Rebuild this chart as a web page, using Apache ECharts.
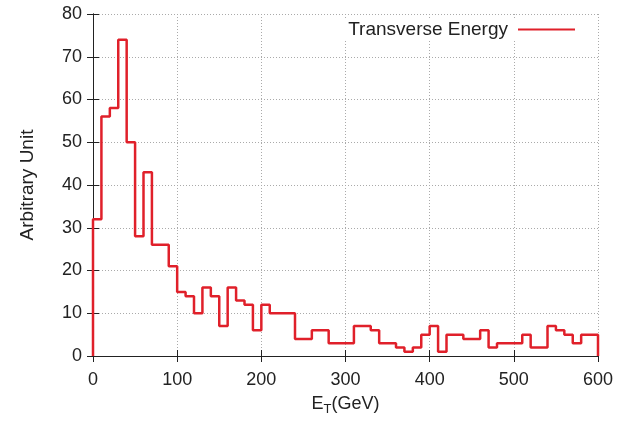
<!DOCTYPE html>
<html>
<head>
	<meta charset="utf-8">
	<title>Transverse Energy</title>
	<style type="text/css">
		body{
			margin: 0px;
			background: #fff;
		}
		.chart{
			width: 643px;
			height: 421px;
		}
	</style>
	<script type="text/javascript" src="https://cdn.jsdelivr.net/npm/echarts@6/dist/echarts.min.js"></script>
</head>
<body>
	<div id="chart" class="chart"></div>
	<script type="text/javascript">
		// histogram, 10 GeV bins from 0 to 600
		var binWidth = 10;
		var counts = [32, 56, 58, 74, 50, 28, 43, 26, 26, 21,
			15, 14, 10, 16, 14, 7, 16, 13, 12, 6,
			12, 10, 10, 10, 4, 4, 6, 6, 3, 3,
			3, 7, 7, 6, 3, 3, 2, 1, 2, 5,
			7, 1, 5, 5, 4, 4, 6, 2, 3, 3,
			3, 5, 2, 2, 7, 6, 5, 3, 5, 5];
		var xTicks = [0, 100, 200, 300, 400, 500, 600];
		var yTicks = [0, 10, 20, 30, 40, 50, 60, 70, 80];

		window.onload = function(){
			var chart = echarts.init(document.getElementById('chart'));
			var pts = [[0, 0]];
			counts.forEach(function(c, i){
				pts.push([i * binWidth, c]);
			});
			pts.push([counts.length * binWidth, 0]);

			var font = 'Liberation Sans, Arial, sans-serif';
			var frame = {show: true, lineStyle: {color: '#222', width: 1}};
			var tick = {show: true, inside: true, length: 6, lineStyle: {color: '#222'}};
			var grid = {show: true, lineStyle: {color: '#aaa', type: [1, 2], width: 1}};

			chart.setOption({
				backgroundColor: '#fff',
				animation: false,
				grid: {left: 93, right: 45, top: 14, bottom: 65},
				legend: {
					data: ['Transverse Energy'],
					right: 64,
					top: 19,
					align: 'right',
					icon: 'rect',
					itemWidth: 57,
					itemHeight: 2,
					backgroundColor: '#fff',
					padding: [1, 4],
					textStyle: {fontFamily: font, fontSize: 19, color: '#222', padding: [0, 5, 0, 0]}
				},
				xAxis: [{
					type: 'value', min: xTicks[0], max: xTicks[xTicks.length - 1], interval: 100,
					axisLine: frame, axisTick: tick, splitLine: grid,
					axisLabel: {fontFamily: font, fontSize: 18, color: '#222', margin: 15},
					name: 'E{sub|T}(GeV)',
					nameLocation: 'middle',
					nameGap: 37,
					nameTextStyle: {
						fontFamily: font, fontSize: 18, color: '#222',
						rich: {sub: {fontFamily: font, fontSize: 13, color: '#222', verticalAlign: 'bottom', padding: [10, 0, 0, 0]}}
					}
				}, {
					type: 'value', position: 'top', min: 0, max: 600, interval: 100,
					axisLine: frame, axisTick: tick, axisLabel: {show: false}, splitLine: {show: false}
				}],
				yAxis: [{
					type: 'value', min: yTicks[0], max: yTicks[yTicks.length - 1], interval: 10,
					axisLine: frame, axisTick: tick, splitLine: grid,
					axisLabel: {fontFamily: font, fontSize: 18, color: '#222', margin: 11},
					name: 'Arbitrary Unit',
					nameLocation: 'middle',
					nameGap: 56,
					nameTextStyle: {fontFamily: font, fontSize: 19, color: '#222'}
				}, {
					type: 'value', position: 'right', min: 0, max: 80, interval: 10,
					axisLine: frame, axisTick: tick, axisLabel: {show: false}, splitLine: {show: false}
				}],
				series: [{
					name: 'Transverse Energy',
					type: 'line',
					step: 'end',
					showSymbol: false,
					data: pts,
					itemStyle: {color: '#e0202a'},
					lineStyle: {color: '#e0202a', width: 2.5}
				}]
			});
		}
	</script>
</body>
</html>
